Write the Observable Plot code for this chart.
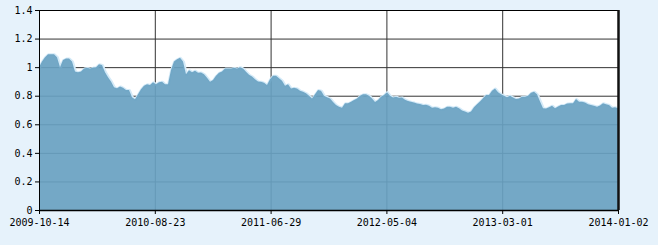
<!DOCTYPE html>
<html><head><meta charset="utf-8">
<style>html,body{margin:0;padding:0;background:#e6f2fb;}</style>
<script src="https://cdn.jsdelivr.net/npm/d3@7"></script>
<script src="https://cdn.jsdelivr.net/npm/@observablehq/plot@0.6"></script>
</head><body><div id="chart"></div>
<script>
const values = [
1.00,1.04,1.07,1.09,1.09,1.09,1.07,1.00,1.05,1.06,1.06,1.04,0.97,0.964,0.97,0.99,0.995,0.99,0.997,1.00,
1.02,1.015,0.965,0.93,0.90,0.86,0.852,0.865,0.855,0.84,0.84,0.79,0.775,0.81,0.845,0.87,0.88,0.875,0.894,0.88,
0.894,0.898,0.88,0.88,0.98,1.04,1.055,1.065,1.04,0.95,0.978,0.965,0.975,0.96,0.962,0.95,0.925,0.898,0.91,0.94,
0.96,0.97,0.99,0.99,0.99,0.995,0.99,1.0,0.99,0.968,0.947,0.935,0.915,0.90,0.898,0.89,0.875,0.915,0.94,0.94,
0.922,0.905,0.87,0.88,0.85,0.855,0.85,0.835,0.828,0.817,0.80,0.78,0.81,0.84,0.835,0.80,0.79,0.78,0.756,0.735,
0.723,0.716,0.747,0.747,0.758,0.77,0.78,0.80,0.81,0.81,0.80,0.78,0.756,0.77,0.793,0.805,0.825,0.80,0.788,0.793,
0.785,0.788,0.772,0.763,0.757,0.752,0.745,0.742,0.735,0.737,0.73,0.716,0.72,0.716,0.705,0.71,0.723,0.723,0.716,0.723,
0.712,0.697,0.69,0.68,0.69,0.72,0.74,0.76,0.782,0.805,0.805,0.835,0.85,0.825,0.81,0.80,0.79,0.80,0.788,0.777,
0.78,0.793,0.793,0.80,0.82,0.828,0.81,0.76,0.712,0.71,0.72,0.73,0.712,0.725,0.735,0.735,0.745,0.747,0.747,0.777,
0.758,0.758,0.752,0.74,0.735,0.73,0.723,0.732,0.747,0.74,0.735,0.716,0.72,0.712
];
const dateLabels = ["2009-10-14","2010-08-23","2011-06-29","2012-05-04","2013-03-01","2014-01-02"];
const yTicks = [0,0.2,0.4,0.6,0.8,1,1.2,1.4];

const n = values.length;
const data = values.map((v, i) => ({i, v}));
const tickPos = dateLabels.map((d, k) => k * (n - 1) / (dateLabels.length - 1));

const chart = Plot.plot({
  width: 658, height: 245,
  marginLeft: 39, marginRight: 40, marginTop: 10, marginBottom: 35,
  style: {background: "#e6f2fb", fontFamily: "'DejaVu Sans Mono', monospace", fontSize: "10px", color: "#000", overflow: "visible"},
  x: {domain: [0, n - 1], label: null},
  y: {domain: [0, 1.4], label: null},
  marks: [
    Plot.frame({fill: "white", stroke: null}),
    Plot.ruleY(yTicks.slice(1), {stroke: "#333", strokeWidth: 1}),
    Plot.ruleX(tickPos.slice(1, -1), {stroke: "#333", strokeWidth: 1}),
    Plot.line(data, {x: "i", y: "v", stroke: "#d4eaf8", strokeWidth: 3}),
    Plot.areaY(data, {x: "i", y: "v", fill: "rgb(104,161,193)", fillOpacity: 0.92}),
    Plot.axisY(yTicks, {tickSize: 4, tickPadding: 3, stroke: "#000", tickFormat: d => String(d), label: null}),
    Plot.axisX(tickPos, {tickSize: 4, tickPadding: 4, stroke: "#000", tickFormat: d => dateLabels[tickPos.indexOf(d)], label: null}),
    Plot.ruleX([0], {stroke: "#000", strokeWidth: 1}),
    Plot.ruleY([0], {stroke: "#000", strokeWidth: 1.5}),
    Plot.ruleY([1.4], {stroke: "#000", strokeWidth: 1}),
    Plot.ruleX([n - 1], {stroke: "#111", strokeWidth: 2.5})
  ]
});
document.getElementById("chart").appendChild(chart);
</script>
</body></html>
